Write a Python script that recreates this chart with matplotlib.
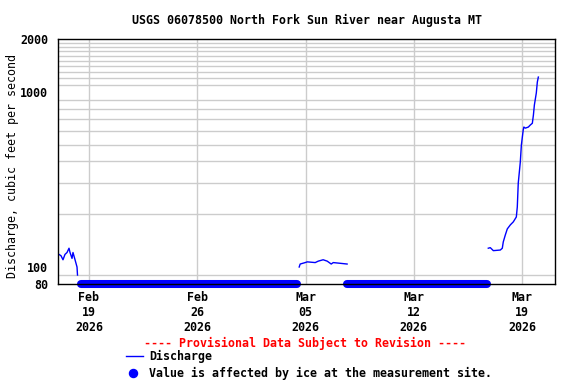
import numpy as np
import pandas as pd
import matplotlib
matplotlib.use("Agg")
import matplotlib.pyplot as plt
from matplotlib.lines import Line2D
from matplotlib.ticker import FixedLocator, NullFormatter

plt.rcParams['font.family'] = 'DejaVu Sans Mono'
plt.rcParams['font.weight'] = 'bold'
plt.rcParams['font.size'] = 8.4

# discharge, cfs (gaps where ice affected)
seg1_time = ["2026-02-17 00:00", "2026-02-17 04:40", "2026-02-17 07:45", "2026-02-17 10:50",
             "2026-02-17 14:00", "2026-02-17 17:05", "2026-02-17 18:40", "2026-02-17 21:45",
             "2026-02-17 23:15", "2026-02-18 02:25", "2026-02-18 05:30", "2026-02-18 06:15"]
seg1_flow = [119, 116, 110, 118, 121, 128, 121, 112, 121, 110, 100, 90]

seg2_time = ["2026-03-04 14:10", "2026-03-04 15:40", "2026-03-04 23:30", "2026-03-05 02:40",
             "2026-03-05 15:00", "2026-03-05 19:40", "2026-03-06 03:20", "2026-03-06 09:40",
             "2026-03-06 15:50", "2026-03-06 19:00", "2026-03-07 05:50", "2026-03-07 16:30"]
seg2_flow = [100, 104, 106, 107, 106, 108, 110, 108, 104, 106, 105, 104]

seg3_time = ["2026-03-16 19:30", "2026-03-16 22:35", "2026-03-17 03:20", "2026-03-17 14:10",
             "2026-03-17 17:15", "2026-03-17 18:45", "2026-03-17 21:50", "2026-03-18 01:00",
             "2026-03-18 05:45", "2026-03-18 10:20", "2026-03-18 15:00", "2026-03-18 16:30",
             "2026-03-18 18:00", "2026-03-18 21:10", "2026-03-18 22:50", "2026-03-19 01:40",
             "2026-03-19 02:40", "2026-03-19 05:00", "2026-03-19 09:40", "2026-03-19 12:40",
             "2026-03-19 15:50", "2026-03-19 17:30", "2026-03-19 19:00", "2026-03-19 22:00",
             "2026-03-19 23:35", "2026-03-20 01:10"]
seg3_flow = [128, 129, 124, 125, 128, 139, 152, 165, 174, 181, 193, 220, 301, 397, 497,
             604, 629, 620, 629, 646, 661, 736, 840, 984, 1136, 1213]

# ice-affected periods
ice_start = ["2026-02-18 11:40", "2026-03-07 16:30"]
ice_end = ["2026-03-04 11:00", "2026-03-16 18:00"]

tick_dates = ["2026-02-19", "2026-02-26", "2026-03-05", "2026-03-12", "2026-03-19"]
tick_labels = ["Feb\n19\n2026", "Feb\n26\n2026", "Mar\n05\n2026", "Mar\n12\n2026", "Mar\n19\n2026"]
y_ticks = [80, 100, 1000, 2000]
y_grid = [90, 100, 200, 300, 400, 500, 600, 700, 800, 900, 1000,
          1100, 1200, 1300, 1400, 1500, 1600, 1700, 1800, 1900, 2000]

blue = '#0000ff'
grid_c = '#cccccc'

fig = plt.figure(figsize=(5.76, 3.84), dpi=100)
ax = fig.add_axes([58 / 576, 1 - 284 / 384, 497 / 576, 245 / 384])

for t, q in [(seg1_time, seg1_flow), (seg2_time, seg2_flow), (seg3_time, seg3_flow)]:
    ax.plot(pd.to_datetime(t), q, color=blue, lw=1, zorder=2)

for s, e in zip(ice_start, ice_end):
    ax.plot(pd.to_datetime([s, e]), [80, 80], color=blue, lw=5.8,
            solid_capstyle='round', clip_on=False, zorder=2)

ax.set_yscale('log')
ax.set_ylim(80, 2000)
ax.set_xlim(pd.Timestamp("2026-02-17 00:00"), pd.Timestamp("2026-03-21 03:00"))

ax.yaxis.set_major_locator(FixedLocator(y_ticks))
ax.set_yticklabels([str(v) for v in y_ticks])
ax.yaxis.set_minor_locator(FixedLocator(y_grid))
ax.yaxis.set_minor_formatter(NullFormatter())
ax.set_xticks(pd.to_datetime(tick_dates))
ax.set_xticklabels(tick_labels, linespacing=1.2)
ax.tick_params(which='both', length=0)
ax.tick_params(axis='y', pad=7)
ax.tick_params(axis='x', pad=5)

ax.grid(which='minor', axis='y', color=grid_c, lw=1)
ax.grid(which='major', axis='x', color=grid_c, lw=1)
ax.set_axisbelow(True)
for sp in ax.spines.values():
    sp.set_color('black')
    sp.set_linewidth(1)
    sp.set_zorder(3)

ax.set_ylabel('Discharge, cubic feet per second', va='center')
ax.yaxis.set_label_coords(-0.092, 0.48)
fig.text(307 / 576, 1 - 20 / 384, 'USGS 06078500 North Fork Sun River near Augusta MT',
         ha='center', va='center')

fig.text(305 / 576, 1 - 343 / 384, '---- Provisional Data Subject to Revision ----',
         ha='center', va='center', color='red')
fig.add_artist(Line2D([126 / 576, 143 / 576], [1 - 356 / 384] * 2, color=blue, lw=1,
                      transform=fig.transFigure))
fig.text(149 / 576, 1 - 356 / 384, 'Discharge', ha='left', va='center')
fig.add_artist(Line2D([133 / 576], [1 - 373 / 384], color=blue, marker='o', ms=5.8,
                      ls='none', transform=fig.transFigure))
fig.text(149 / 576, 1 - 373 / 384, 'Value is affected by ice at the measurement site.',
         ha='left', va='center')

fig.savefig('out.png', dpi=100)
